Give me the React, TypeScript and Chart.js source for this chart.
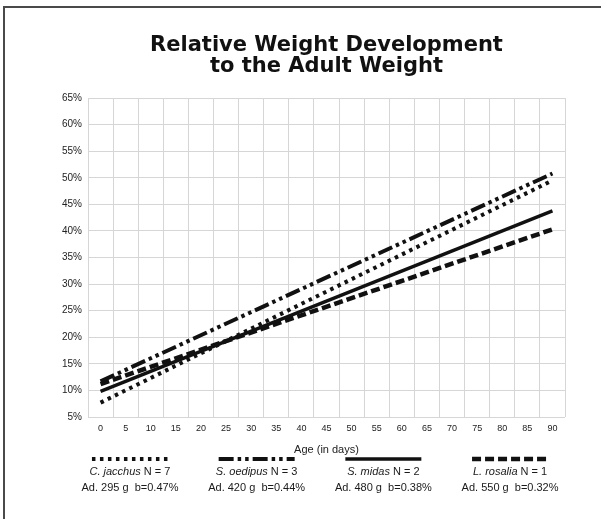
import React, { useEffect, useRef } from 'react';
import { Chart, registerables } from 'chart.js';

Chart.register(...registerables);

// ---- data ----
const ageLabels = ['0', '5', '10', '15', '20', '25', '30', '35', '40', '45', '50', '55', '60', '65', '70', '75', '80', '85', '90'];
const yTickValues = [5, 10, 15, 20, 25, 30, 35, 40, 45, 50, 55, 60, 65];
const speciesNames = ['C. jacchus', 'S. oedipus', 'S. midas', 'L. rosalia'];
const sampleSizes = [7, 3, 2, 1];
const adultWeights = [295, 420, 480, 550];
const growthRates = ['0.47', '0.44', '0.38', '0.32'];
const startAge = ['0', '0', '0', '0'];
const endAge = ['90', '90', '90', '90'];
const startPercent = [7.7, 11.7, 9.8, 11.2];
const endPercent = [49.5, 50.8, 43.8, 40.3];

// ---- styles ----
const lineDashes: number[][] = [[3.5, 4.5], [15, 4, 3.5, 4, 3.5, 4], [], [9, 4]];
const lineWidths = [4, 4, 3.5, 4.5];
const FONT = '"Liberation Sans", Arial, sans-serif';

const framePlugin = {
  id: 'frame',
  beforeDraw(chart: any) {
    const ctx = chart.ctx;
    ctx.save();
    ctx.fillStyle = '#ffffff';
    ctx.fillRect(0, 0, chart.width, chart.height);
    ctx.strokeStyle = '#4a4a4a';
    ctx.lineWidth = 2;
    ctx.beginPath();
    ctx.moveTo(4, chart.height);
    ctx.lineTo(4, 7);
    ctx.lineTo(chart.width, 7);
    ctx.stroke();
    ctx.restore();
  },
};

const legendPlugin = {
  id: 'customLegend',
  afterDraw(chart: any) {
    const ctx = chart.ctx;
    ctx.save();
    const n = chart.data.datasets.length;
    for (let i = 0; i < n; i++) {
      const ds = chart.data.datasets[i];
      const cx = 320 + (i - (n - 1) / 2) * 126.7;
      // symbol
      ctx.strokeStyle = '#111';
      ctx.lineWidth = ds.borderWidth;
      ctx.lineCap = 'butt';
      ctx.setLineDash(ds.borderDash || []);
      ctx.beginPath();
      ctx.moveTo(cx - 38, 459);
      ctx.lineTo(cx + 38, 459);
      ctx.stroke();
      ctx.setLineDash([]);
      // name line
      ctx.fillStyle = '#1a1a1a';
      ctx.textBaseline = 'middle';
      ctx.textAlign = 'left';
      const italic = `italic 11px ${FONT}`;
      const normal = `11px ${FONT}`;
      const namePart = speciesNames[i];
      const nPart = ` N = ${sampleSizes[i]}`;
      ctx.font = italic;
      const w1 = ctx.measureText(namePart).width;
      ctx.font = normal;
      const w2 = ctx.measureText(nPart).width;
      const x0 = cx - (w1 + w2) / 2;
      ctx.font = italic;
      ctx.fillText(namePart, x0, 472);
      ctx.font = normal;
      ctx.fillText(nPart, x0 + w1, 472);
      // adult weight line
      ctx.textAlign = 'center';
      ctx.fillText(`Ad. ${adultWeights[i]} g  b=${growthRates[i]}%`, cx, 488);
    }
    ctx.restore();
  },
};

export default function App() {
  const ref = useRef<HTMLCanvasElement>(null);

  useEffect(() => {
    const canvas = ref.current;
    if (!canvas) return;
    const datasets = speciesNames.map((name, i) => ({
      label: name,
      data: [
        { x: startAge[i], y: startPercent[i] },
        { x: endAge[i], y: endPercent[i] },
      ],
      borderColor: '#111',
      backgroundColor: '#111',
      borderWidth: lineWidths[i],
      borderDash: lineDashes[i],
      borderCapStyle: 'butt' as const,
      pointRadius: 0,
      fill: false,
      tension: 0,
      spanGaps: true,
    }));

    const chart = new Chart(canvas, {
      type: 'line',
      data: { labels: ageLabels, datasets },
      options: {
        responsive: false,
        animation: false,
        devicePixelRatio: 1,
        layout: { padding: { left: 30, right: 36, top: 10, bottom: 62 } },
        plugins: {
          legend: { display: false },
          tooltip: { enabled: false },
          title: {
            display: true,
            fullSize: false,
            text: ['Relative Weight Development', 'to the Adult Weight'],
            color: '#111',
            font: { family: '"DejaVu Sans", sans-serif', weight: 'bold', size: 21, lineHeight: 0.98 },
            padding: { top: 25.2, bottom: 21.7 },
          },
        },
        scales: {
          x: {
            type: 'category',
            offset: true,
            grid: { offset: true, color: '#d6d6d6', lineWidth: 1, drawTicks: false },
            border: { display: false },
            ticks: {
              autoSkip: false,
              maxRotation: 0,
              padding: 6,
              color: '#222',
              font: { family: FONT, size: 9 },
            },
            title: {
              display: true,
              text: 'Age (in days)',
              color: '#222',
              font: { family: FONT, size: 11 },
              padding: { top: 5, bottom: 0 },
            },
            afterFit: (s: any) => {
              s.height = 40;
            },
          },
          y: {
            type: 'linear',
            min: yTickValues[0],
            max: yTickValues[yTickValues.length - 1],
            grid: { color: '#d6d6d6', lineWidth: 1, drawTicks: false },
            border: { display: false },
            afterBuildTicks: (s: any) => {
              s.ticks = yTickValues.map((v) => ({ value: v }));
            },
            ticks: {
              padding: 6,
              color: '#222',
              font: { family: FONT, size: 10 },
              callback: (v: any) => `${v}%`,
            },
            afterFit: (s: any) => {
              s.width = 58;
            },
          },
        },
      },
      plugins: [framePlugin, legendPlugin],
    });
    return () => chart.destroy();
  }, []);

  return (
    <canvas
      ref={ref}
      width={601}
      height={519}
      style={{ position: 'fixed', left: 0, top: 0, width: 601, height: 519 }}
    />
  );
}
